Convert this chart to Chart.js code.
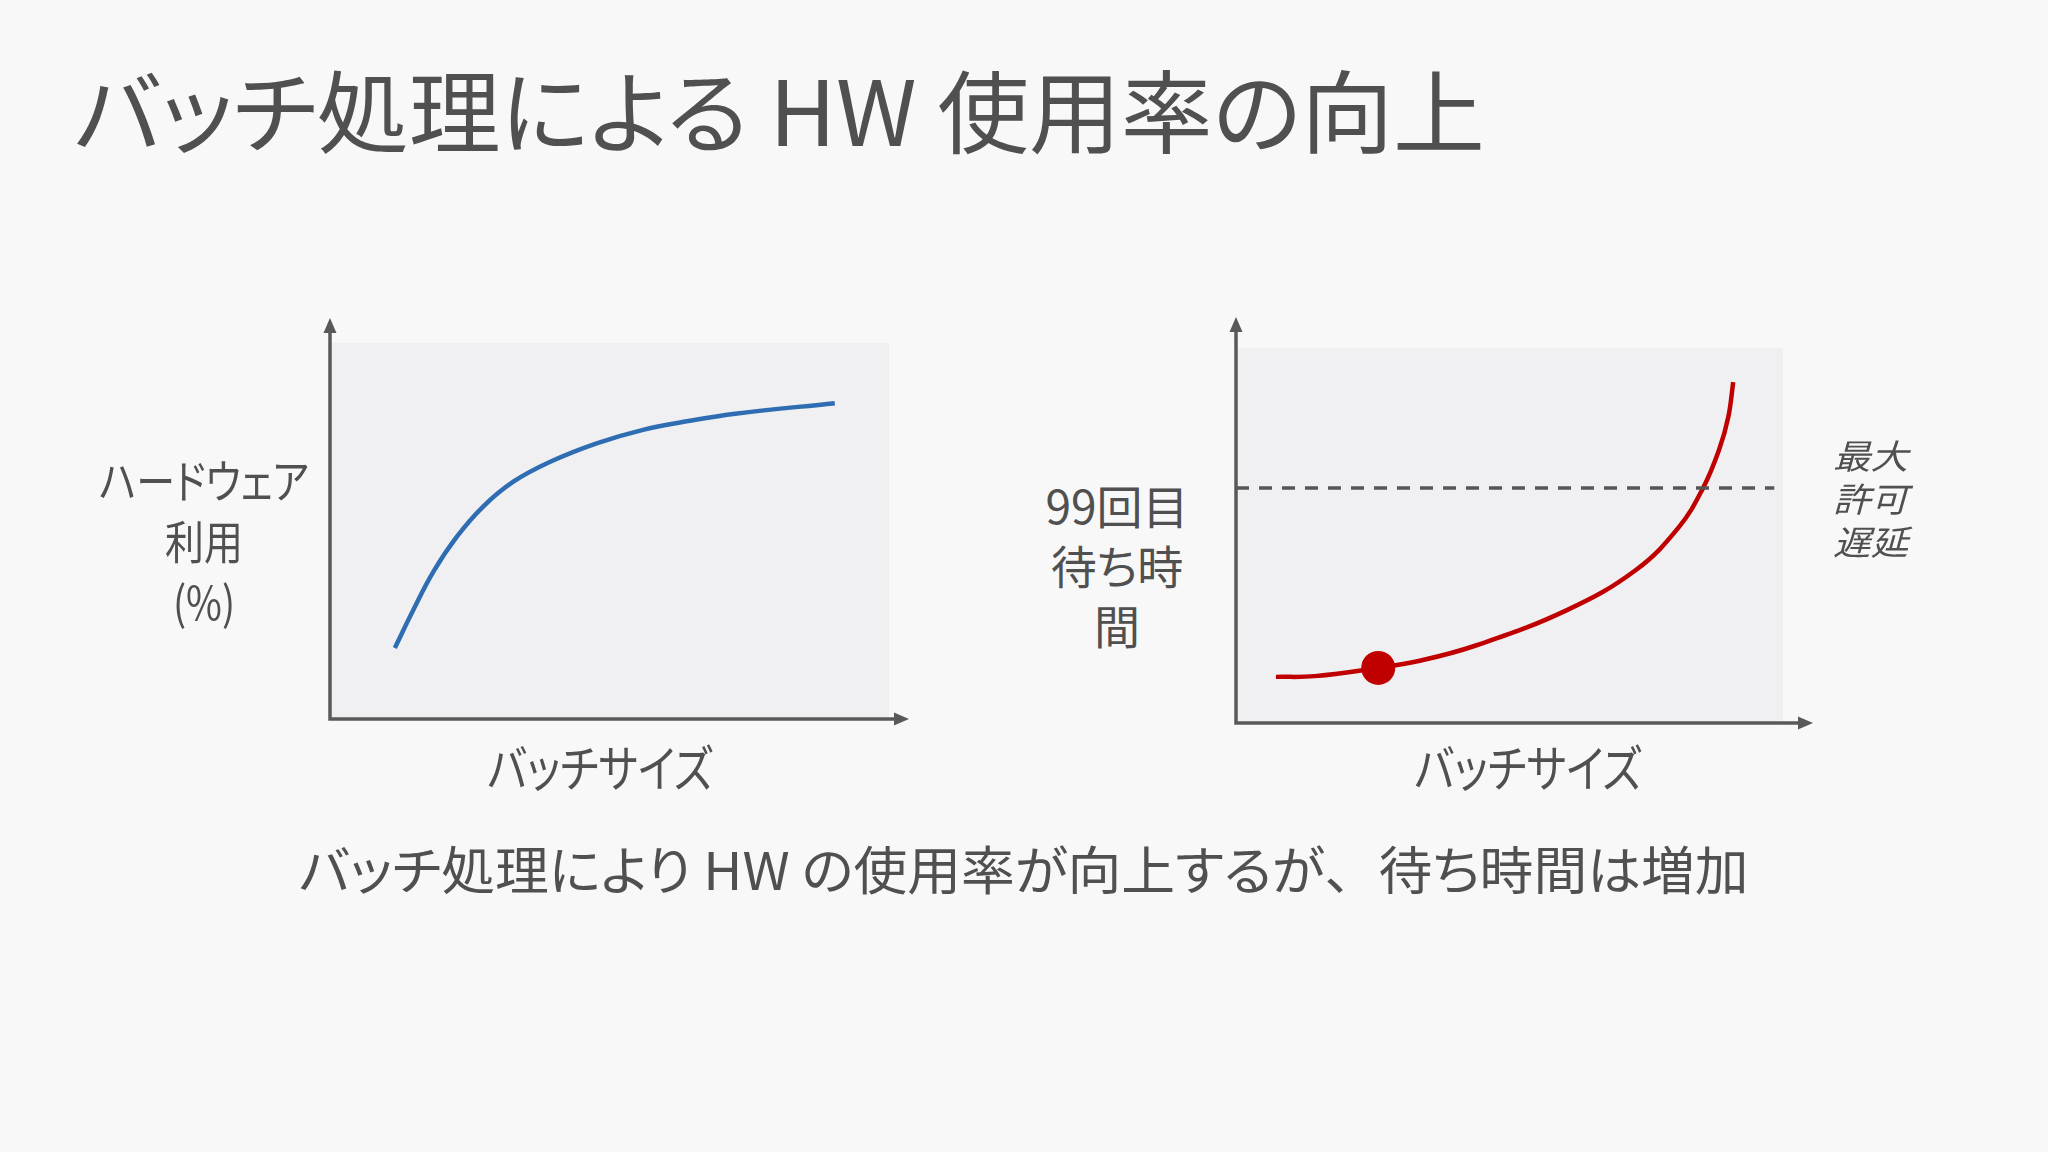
<!DOCTYPE html>
<html lang="ja">
<head>
<meta charset="utf-8">
<title>バッチ処理による HW 使用率の向上</title>
<script src="https://cdn.jsdelivr.net/npm/chart.js@4.4.1/dist/chart.umd.min.js"></script>
<style>
  html, body { margin:0; padding:0; }
  body { width:2048px; height:1152px; background:#f8f8f9; position:relative; overflow:hidden;
         font-family:"Noto Sans CJK JP","Noto Sans",sans-serif; color:#505050; }
  .txt { position:absolute; white-space:nowrap; line-height:1; font-feature-settings:"palt"; }
  .ctr { text-align:center; }
  .np { font-feature-settings:normal; }
  canvas { position:absolute; }
</style>
</head>
<body>
<div class="txt" id="title" style="left:74px; top:62px; font-size:90px;" data-w="1411" data-o="left">バッチ処理による HW 使用率の向上</div>

<canvas id="chartUtil" width="640" height="440" style="left:300px; top:300px;"></canvas>
<canvas id="chartWait" width="640" height="440" style="left:1200px; top:300px;"></canvas>

<div class="txt ctr" id="yUtil" style="left:204px; top:448px; font-size:46px; line-height:61px;" data-w="210" data-o="center">ハードウェア<br>利用<br>(%)</div>
<div class="txt ctr" id="yWait" style="left:1117px; top:474px; font-size:46px; line-height:60px;" data-w="143" data-o="center">99回目<br>待ち時<br>間</div>
<div class="txt ctr" id="xUtil" style="left:600px; top:740px; font-size:50px;" data-w="225" data-o="center">バッチサイズ</div>
<div class="txt ctr" id="xWait" style="left:1528px; top:740px; font-size:50px;" data-w="227" data-o="center">バッチサイズ</div>
<div class="txt" id="note" style="left:1833px; top:433px; font-size:34px; line-height:43px; font-style:italic;" data-w="75" data-o="left">最大<br>許可<br>遅延</div>

<div class="txt" id="caption" style="left:299px; top:842px; font-size:52px;" data-w="1450" data-o="left">バッチ処理により HW の使用率が向上するが<span class="np">、</span>待ち時間は増加</div>

<script>
// 左: ハードウェア利用率 (0-100 の相対値)
const utilX = [11.6, 14.9, 18.5, 22.7, 27.4, 32.8, 39.4, 47.7, 56.0, 64.4, 72.5, 90.3];
const utilY = [18.9, 29.0, 39.2, 48.5, 56.5, 63.1, 68.4, 73.3, 76.9, 79.3, 81.2, 84.0];

// 右: 99回目待ち時間
const waitX = [7.3, 14.4, 26.0, 33.6, 43.7, 60.5, 73.1, 81.0, 85.4, 88.3, 90.0, 90.9];
const waitY = [12.3, 12.5, 14.7, 16.6, 20.6, 30.1, 40.8, 52.3, 62.7, 72.8, 81.6, 90.9];

const markX = [26.0], markY = [14.7];            // 赤い点
const limitX = [0, 98.4], limitY = [62.7, 62.7]; // 最大許可遅延

const AXIS = '#595959';

const pts = (xs, ys) => xs.map((x,i) => ({x, y:ys[i]}));

// 灰色のパネル + 矢印付きの軸
const frame = {
  id:'frame',
  beforeDatasetsDraw(chart, args, o) {
    const {ctx, chartArea:a} = chart;
    ctx.save();
    ctx.fillStyle = o.panel;
    ctx.fillRect(a.left, a.top, a.right-a.left, a.bottom-a.top);
    ctx.restore();
  },
  afterDatasetsDraw(chart, args, o) {
    const {ctx, chartArea:a} = chart;
    const tipY = a.top - o.overTop, tipX = a.right + o.overRight;
    const hl = 15, hw = 6.5;
    ctx.save();
    ctx.strokeStyle = AXIS; ctx.fillStyle = AXIS; ctx.lineWidth = 3.5;
    ctx.beginPath();
    ctx.moveTo(a.left, tipY + hl);
    ctx.lineTo(a.left, a.bottom);
    ctx.lineTo(tipX - hl, a.bottom);
    ctx.stroke();
    ctx.beginPath();
    ctx.moveTo(a.left, tipY); ctx.lineTo(a.left-hw, tipY+hl); ctx.lineTo(a.left+hw, tipY+hl); ctx.closePath();
    ctx.fill();
    ctx.beginPath();
    ctx.moveTo(tipX, a.bottom); ctx.lineTo(tipX-hl, a.bottom-hw); ctx.lineTo(tipX-hl, a.bottom+hw); ctx.closePath();
    ctx.fill();
    ctx.restore();
  },
};

const SCALES = {
  x: { type:'linear', min:0, max:100, display:false },
  y: { type:'linear', min:0, max:100, display:false },
};

function baseOpts(pad, over) {
  return {
    responsive:false, animation:false, devicePixelRatio:1,
    layout:{ padding:pad },
    plugins:{ legend:{display:false}, tooltip:{enabled:false}, frame:{ panel:'#f0f0f2', ...over } },
    scales:SCALES,
  };
}

new Chart(document.getElementById('chartUtil'), {
  type:'line',
  data:{ datasets:[{
    data:pts(utilX, utilY),
    borderColor:'#2f6db3', borderWidth:4.5, pointRadius:0,
    tension:0.4, clip:false,
  }]},
  options:baseOpts({left:30, right:51, top:43, bottom:21}, {overTop:25, overRight:20}),
  plugins:[frame],
});

new Chart(document.getElementById('chartWait'), {
  type:'line',
  data:{ datasets:[
    { data:pts(limitX, limitY), borderColor:'#555555', borderWidth:3.5, borderDash:[13,10], pointRadius:0, clip:false },
    { data:pts(waitX, waitY), borderColor:'#c00000', borderWidth:4.5, pointRadius:0,
      tension:0.4, clip:false },
    { data:pts(markX, markY), showLine:false, pointRadius:17, pointBackgroundColor:'#c00000',
      pointBorderWidth:0, clip:false },
  ]},
  options:baseOpts({left:36, right:57, top:48, bottom:17}, {overTop:31, overRight:30}),
  plugins:[frame],
});

// テキスト幅を元のスライドに合わせる
function fitText() {
  document.querySelectorAll('.txt[data-w]').forEach(el => {
    el.style.transform = '';
    const s = (+el.dataset.w) / el.offsetWidth;
    if (el.dataset.o === 'center') {
      el.style.transformOrigin = 'center top';
      el.style.transform = `translateX(-50%) scaleX(${s})`;
    } else {
      el.style.transformOrigin = 'left top';
      el.style.transform = `scaleX(${s})`;
    }
  });
}
fitText();
if (document.fonts) document.fonts.ready.then(fitText);
</script>
</body>
</html>
